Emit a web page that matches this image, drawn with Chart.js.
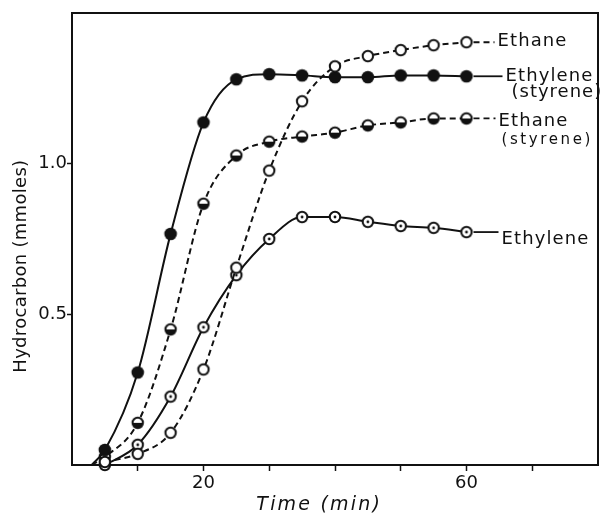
<!DOCTYPE html>
<html><head><meta charset="utf-8">
<script src="https://cdn.jsdelivr.net/npm/chart.js@4/dist/chart.umd.min.js"></script>
<style>html,body{margin:0;padding:0;background:#fff}#wrap{width:606px;height:514px;position:relative}</style>
</head><body><div id="wrap"><canvas id="c"></canvas></div>
<script>
// ---- data ----
const times = [5,10,15,20,25,30,35,40,45,50,55,60];
const ethane          = [0.010,0.037,0.107,0.317,0.655,0.977,1.207,1.323,1.357,1.377,1.393,1.403];
const ethyleneStyrene = [0.050,0.307,0.767,1.137,1.280,1.297,1.293,1.287,1.287,1.293,1.293,1.290];
const ethaneStyrene   = [0.027,0.140,0.450,0.867,1.027,1.073,1.090,1.103,1.127,1.137,1.150,1.150];
const ethylene        = [0.000,0.067,0.227,0.457,0.630,0.750,0.823,0.823,0.807,0.793,0.787,0.773];
const curveStartTime = 3;   // styrene curves leave the time axis here
const seriesNames = ['Ethane','Ethylene','Ethane','Ethylene'];
const seriesNotes = ['','(styrene)','(styrene)',''];
const xTickLabels = ['20','60'];
const yTickLabels = ['0.5','1.0'];
const xTitle = 'Time (min)';
const yTitle = 'Hydrocarbon (mmoles)';

const INK = '#111';
function makeMarker(kind){
  const s = 16, c = document.createElement('canvas'); c.width = s; c.height = s;
  const g = c.getContext('2d'), cx = 8, cy = 8, r = 5.2;
  if (kind === 'filled'){ g.fillStyle = INK; g.beginPath(); g.arc(cx,cy,6.3,0,2*Math.PI); g.fill(); return c; }
  g.fillStyle = '#fff'; g.beginPath(); g.arc(cx,cy,r,0,2*Math.PI); g.fill();
  if (kind === 'half'){ g.fillStyle = INK; g.beginPath(); g.arc(cx,cy,r,0,Math.PI); g.closePath(); g.fill(); }
  if (kind === 'dot'){ g.fillStyle = INK; g.beginPath(); g.arc(cx,cy,1.4,0,2*Math.PI); g.fill(); }
  g.lineWidth = 2; g.strokeStyle = INK; g.beginPath(); g.arc(cx,cy,r,0,2*Math.PI); g.stroke();
  return c;
}
const markers = {open: makeMarker('open'), filled: makeMarker('filled'), half: makeMarker('half'), dot: makeMarker('dot')};

function pts(vals, lead){
  const d = times.map((t,i)=>({x:t, y:vals[i]}));
  if (lead) d.unshift({x:curveStartTime, y:0, lead:true});
  return d;
}
function ds(i, vals, marker, dash, lead, lbl){
  return {
    label: seriesNames[i], data: pts(vals, lead),
    borderColor: INK, borderWidth: 2, borderDash: dash,
    pointStyle: marker, pointRadius: ctx => (ctx.raw && ctx.raw.lead) ? 0 : 6,
    cubicInterpolationMode: 'monotone', fill: false, clip: false,
    labelCfg: Object.assign({name: seriesNames[i], note: seriesNotes[i]}, lbl)
  };
}

const datasets = [
  ds(0, ethane, markers.open, [6,4], false, {gap:31, dy:4}),
  ds(1, ethyleneStyrene, markers.filled, [], true, {gap:39, dy:5, noteGap:45, noteDy:21, noteFont:'18px "DejaVu Sans"', noteSpacing:'1.0px'}),
  ds(2, ethaneStyrene, markers.half, [6,4], true, {gap:32, dy:8, noteGap:35, noteDy:26, noteFont:'15px "DejaVu Sans"', noteSpacing:'2.6px'}),
  ds(3, ethylene, markers.dot, [], false, {gap:35, dy:12})
];

const framePlugin = {
  id: 'frame',
  beforeDatasetsDraw(chart){
    const {ctx, chartArea:a} = chart;
    ctx.save(); ctx.strokeStyle = INK; ctx.lineWidth = 2;
    ctx.strokeRect(a.left, a.top, a.right - a.left, a.bottom - a.top);
    ctx.restore();
  },
  afterDatasetsDraw(chart){
    const ctx = chart.ctx;
    chart.data.datasets.forEach((d, i) => {
      const meta = chart.getDatasetMeta(i);
      const p = meta.data[meta.data.length - 1];
      const L = d.labelCfg;
      const lx = p.x + L.gap;
      ctx.save();
      ctx.strokeStyle = INK; ctx.lineWidth = 1.8; ctx.setLineDash(d.borderDash);
      ctx.beginPath(); ctx.moveTo(p.x + 7, p.y); ctx.lineTo(lx - 3, p.y); ctx.stroke();
      ctx.setLineDash([]);
      ctx.fillStyle = INK; ctx.textAlign = 'left'; ctx.textBaseline = 'alphabetic';
      ctx.font = '18px "DejaVu Sans"'; ctx.letterSpacing = '1.1px';
      ctx.fillText(L.name, lx, p.y + L.dy);
      if (L.note){
        ctx.font = L.noteFont; ctx.letterSpacing = L.noteSpacing;
        ctx.fillText(L.note, p.x + L.noteGap, p.y + L.noteDy);
      }
      ctx.restore();
    });
  },
  afterDraw(chart){
    const {ctx, chartArea:a} = chart;
    ctx.save(); ctx.fillStyle = INK;
    ctx.font = 'italic 19px "DejaVu Sans"'; ctx.letterSpacing = '2.2px';
    ctx.textAlign = 'center'; ctx.textBaseline = 'alphabetic';
    ctx.fillText(xTitle, a.left + (a.right - a.left) * 0.47, a.bottom + 45);
    ctx.translate(21, a.top + (a.bottom - a.top) * 0.56);
    ctx.rotate(-Math.PI/2);
    ctx.font = '18px "DejaVu Sans"'; ctx.letterSpacing = '0.3px'; ctx.textBaseline = 'middle';
    ctx.fillText(yTitle, 0, 0);
    ctx.restore();
  }
};

new Chart(document.getElementById('c'), {
  type: 'line',
  data: { datasets },
  options: {
    responsive: true, maintainAspectRatio: false, animation: false,
    layout: { padding: { top: 13, right: 2, left: 0, bottom: 0 } },
    plugins: { legend: { display: false }, tooltip: { enabled: false } },
    scales: {
      x: {
        type: 'linear', min: 0, max: 80,
        border: { display: false },
        grid: { drawOnChartArea: false, drawTicks: true, tickLength: 6, tickWidth: 1.5,
                tickColor: c => (c.tick && c.tick.value > 0 && c.tick.value < 80) ? INK : 'rgba(0,0,0,0)' },
        ticks: { stepSize: 10, autoSkip: false, maxRotation: 0, padding: 2, color: INK,
                 font: { family: '"DejaVu Sans"', size: 18 },
                 callback: v => xTickLabels.includes(String(v)) ? String(v) : '' },
        afterFit: s => { s.height = 49; }
      },
      y: {
        type: 'linear', min: 0, max: 1.5,
        border: { display: false },
        grid: { drawOnChartArea: false, drawTicks: true, tickLength: 5, tickWidth: 1.5,
                tickColor: c => (c.tick && yTickLabels.includes(c.tick.value.toFixed(1))) ? INK : 'rgba(0,0,0,0)' },
        ticks: { stepSize: 0.5, autoSkip: false, padding: 0, color: INK,
                 font: { family: '"DejaVu Sans"', size: 18 },
                 callback: v => yTickLabels.includes(v.toFixed(1)) ? v.toFixed(1) : '' },
        afterFit: s => { s.width = 72; }
      }
    }
  },
  plugins: [framePlugin]
});
</script>
</body></html>
